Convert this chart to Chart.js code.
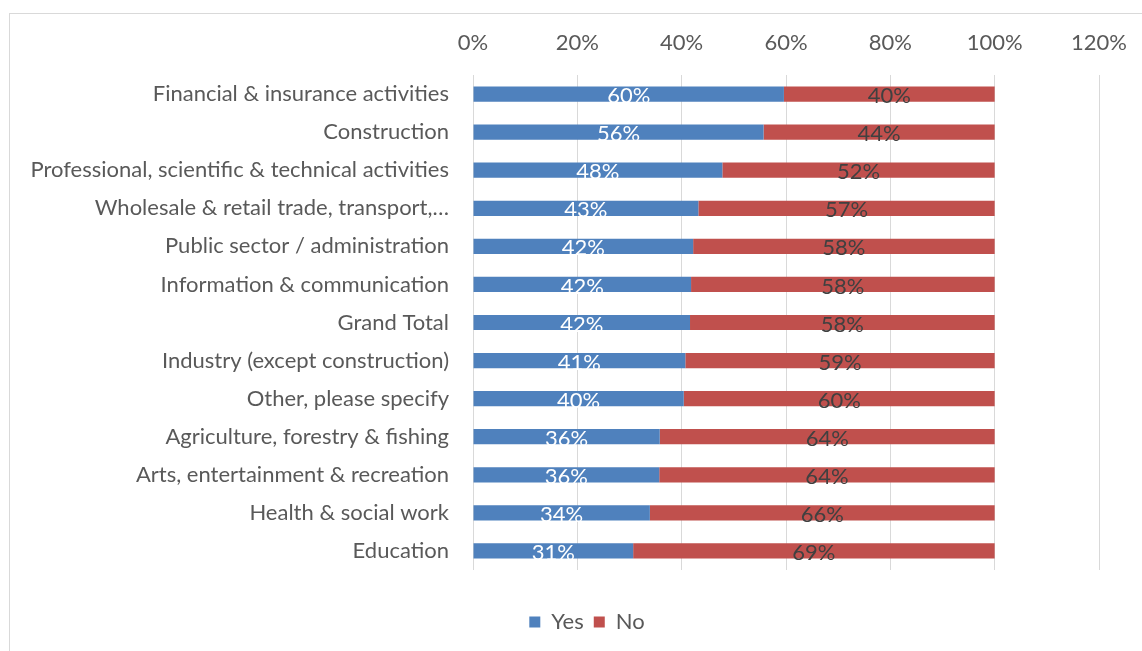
<!DOCTYPE html>
<html>
<head>
<meta charset="utf-8">
<script src="https://cdn.jsdelivr.net/npm/chart.js@4.4.4/dist/chart.umd.min.js"></script>
<style>
  html, body { margin: 0; padding: 0; background: #fff; overflow: hidden; }
  #frame { position: absolute; left: 9px; top: 13px; width: 1200px; height: 700px; border: 1px solid #d9d9d9; }
  #chart { position: absolute; left: 0; top: 0; }
</style>
</head>
<body>
<div id="frame"></div>
<canvas id="chart" width="1142" height="651"></canvas>
<script>
// Share of respondents answering Yes / No, by sector (100% stacked bars)
const categories = [
  'Financial & insurance activities',
  'Construction',
  'Professional, scientific & technical activities',
  'Wholesale & retail trade, transport,…',
  'Public sector / administration',
  'Information & communication',
  'Grand Total',
  'Industry (except construction)',
  'Other, please specify',
  'Agriculture, forestry & fishing',
  'Arts, entertainment & recreation',
  'Health & social work',
  'Education',
];
const yesValues = [59.6, 55.7, 47.8, 43.2, 42.2, 41.8, 41.6, 40.7, 40.4, 35.8, 35.7, 33.9, 30.7];
const noValues = [40.4, 44.3, 52.2, 56.8, 57.8, 58.2, 58.4, 59.3, 59.6, 64.2, 64.3, 66.1, 69.3];
const xTicks = [0, 20, 40, 60, 80, 100, 120];

const FONT = 'Lato';
const FSIZE = 22;
const TEXT = '#595959';

// value labels centred inside each segment, Excel style
const segmentLabels = {
  id: 'segmentLabels',
  afterDatasetsDraw(chart) {
    const { ctx } = chart;
    ctx.save();
    ctx.font = `${FSIZE}px ${FONT}`;
    ctx.textAlign = 'center';
    ctx.textBaseline = 'middle';
    chart.data.datasets.forEach((ds, i) => {
      const meta = chart.getDatasetMeta(i);
      ctx.fillStyle = ds.labelColor;
      meta.data.forEach((bar, j) => {
        const cx = (bar.x + bar.base) / 2;
        ctx.fillText(`${Math.round(ds.data[j])}%`, cx, bar.y + 2);
      });
    });
    ctx.restore();
  },
};

new Chart(document.getElementById('chart'), {
  type: 'bar',
  data: {
    labels: categories,
    datasets: [
      { label: 'Yes', data: yesValues, xAxisID: 'x', yAxisID: 'y', backgroundColor: '#4f81bd', labelColor: '#ffffff' },
      { label: 'No', data: noValues, xAxisID: 'x', yAxisID: 'y', backgroundColor: '#c0504d', labelColor: '#404040' },
    ],
  },
  options: {
    indexAxis: 'y',
    responsive: false,
    animation: false,
    devicePixelRatio: 1,
    barPercentage: 0.4,
    categoryPercentage: 1,
    layout: { padding: { left: 32, right: 0, top: 0, bottom: 8 } },
    scales: {
      x: {
        position: 'top',
        stacked: true,
        min: 0,
        max: 120,
        afterBuildTicks: (s) => { s.ticks = xTicks.map((v) => ({ value: v })); },
        afterFit: (s) => { s.height = 75; s.paddingLeft = 0; s.paddingRight = 0; },
        grid: { color: '#d9d9d9', drawTicks: false },
        border: { display: false },
        ticks: { color: TEXT, padding: 19, font: { family: FONT, size: FSIZE }, callback: (v) => `${v}%` },
      },
      y: {
        stacked: true,
        afterFit: (s) => { s.width = 441; },
        grid: { display: false },
        border: { display: false },
        ticks: { color: TEXT, padding: 16, font: { family: FONT, size: FSIZE } },
      },
      // spacers: between plot and legend, and right of the plot
      gap: {
        type: 'linear',
        axis: 'x',
        position: 'bottom',
        afterFit: (s) => { s.height = 31; s.paddingLeft = 0; s.paddingRight = 0; },
        grid: { display: false },
        border: { display: false },
        ticks: { display: false },
      },
      gapR: {
        type: 'linear',
        axis: 'y',
        position: 'right',
        afterFit: (s) => { s.width = 43; },
        grid: { display: false },
        border: { display: false },
        ticks: { display: false },
      },
    },
    plugins: {
      legend: {
        position: 'bottom',
        labels: { color: TEXT, boxWidth: 11, boxHeight: 11, padding: 10, font: { family: FONT, size: FSIZE } },
      },
      tooltip: { enabled: false },
    },
  },
  plugins: [segmentLabels],
});
</script>
</body>
</html>
